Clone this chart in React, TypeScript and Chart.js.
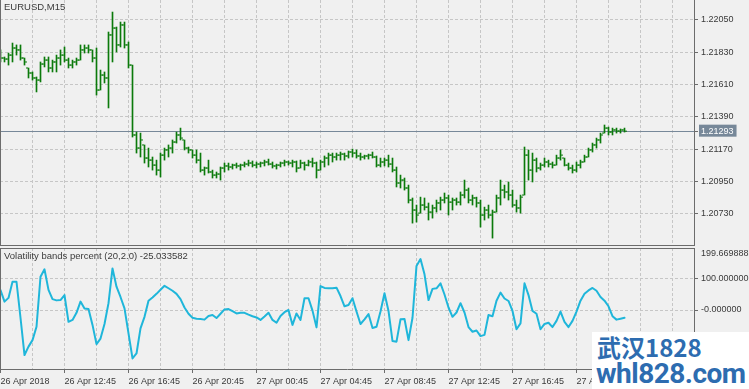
import React, { useEffect, useRef } from 'react';
import { Chart, registerables } from 'chart.js';

Chart.register(...registerables);

// ---------------- DATA ----------------
const SYMBOL_TITLE = 'EURUSD,M15';
const INDICATOR_NAME = 'Volatility bands percent (20,2.0)';

// time labels every 16 bars (4 hours of M15 bars)
const TIME_LABELS = [
  '26 Apr 2018', '26 Apr 12:45', '26 Apr 16:45', '26 Apr 20:45', '27 Apr 00:45',
  '27 Apr 04:45', '27 Apr 08:45', '27 Apr 12:45', '27 Apr 16:45', '27 Apr 20:45',
];

const PRICE_TICKS = [1.2073, 1.2095, 1.2117, 1.2139, 1.2161, 1.2183, 1.2205];
const LAST_PRICE = 1.21293;

const HIGH = [
  1.21846, 1.21798, 1.21825, 1.21893, 1.21880, 1.21880, 1.21791, 1.21723, 1.21696, 1.21662,
  1.21764, 1.21798, 1.21798, 1.21777, 1.21811, 1.21846, 1.21866, 1.21791, 1.21777, 1.21791,
  1.21880, 1.21880, 1.21880, 1.21846, 1.21859, 1.21709, 1.21696, 1.21968, 1.22104, 1.22002,
  1.22036, 1.22036, 1.21900, 1.21743, 1.21287, 1.21280, 1.21199, 1.21178, 1.21117, 1.21096,
  1.21144, 1.21178, 1.21199, 1.21233, 1.21287, 1.21314, 1.21233, 1.21185, 1.21165, 1.21165,
  1.21144, 1.21049, 1.21096, 1.21028, 1.21015, 1.21049, 1.21076, 1.21076, 1.21069, 1.21076,
  1.21069, 1.21083, 1.21096, 1.21090, 1.21083, 1.21083, 1.21096, 1.21103, 1.21083, 1.21069,
  1.21083, 1.21096, 1.21090, 1.21096, 1.21090, 1.21096, 1.21083, 1.21096, 1.21110, 1.21083,
  1.21096, 1.21124, 1.21144, 1.21144, 1.21144, 1.21151, 1.21144, 1.21158, 1.21171, 1.21165,
  1.21144, 1.21130, 1.21137, 1.21151, 1.21124, 1.21110, 1.21110, 1.21130, 1.21110, 1.21049,
  1.20994, 1.20974, 1.20926, 1.20838, 1.20790, 1.20844, 1.20838, 1.20804, 1.20790, 1.20824,
  1.20844, 1.20872, 1.20858, 1.20838, 1.20838, 1.20879, 1.20960, 1.20906, 1.20858, 1.20844,
  1.20824, 1.20776, 1.20790, 1.20756, 1.20858, 1.20960, 1.20926, 1.20947, 1.20892, 1.20824,
  1.20858, 1.21185, 1.21165, 1.21144, 1.21110, 1.21076, 1.21110, 1.21096, 1.21083, 1.21130,
  1.21165, 1.21110, 1.21076, 1.21062, 1.21083, 1.21096, 1.21130, 1.21178, 1.21212, 1.21246,
  1.21280, 1.21335, 1.21321, 1.21314, 1.21314, 1.21308, 1.21314,
];

const LOW = [
  1.21764, 1.21764, 1.21743, 1.21764, 1.21811, 1.21777, 1.21743, 1.21655, 1.21641, 1.21560,
  1.21628, 1.21730, 1.21696, 1.21696, 1.21696, 1.21743, 1.21764, 1.21723, 1.21723, 1.21743,
  1.21777, 1.21825, 1.21825, 1.21764, 1.21539, 1.21573, 1.21621, 1.21451, 1.21764, 1.21832,
  1.21866, 1.21859, 1.21723, 1.21253, 1.21144, 1.21117, 1.21076, 1.21049, 1.21028, 1.20994,
  1.20981, 1.21096, 1.21117, 1.21144, 1.21212, 1.21233, 1.21165, 1.21144, 1.21110, 1.21076,
  1.21015, 1.20994, 1.21008, 1.20974, 1.20974, 1.20960, 1.21015, 1.21028, 1.21035, 1.21042,
  1.21028, 1.21049, 1.21056, 1.21049, 1.21042, 1.21049, 1.21056, 1.21062, 1.21042, 1.21035,
  1.21049, 1.21056, 1.21062, 1.21049, 1.21015, 1.21042, 1.21028, 1.21056, 1.21049, 1.20974,
  1.21028, 1.21049, 1.21062, 1.21083, 1.21096, 1.21096, 1.21096, 1.21110, 1.21117, 1.21110,
  1.21096, 1.21103, 1.21103, 1.21110, 1.21049, 1.21049, 1.21056, 1.21049, 1.21015, 1.20913,
  1.20906, 1.20892, 1.20804, 1.20667, 1.20674, 1.20735, 1.20756, 1.20688, 1.20701, 1.20742,
  1.20756, 1.20804, 1.20722, 1.20756, 1.20790, 1.20790, 1.20838, 1.20804, 1.20790, 1.20776,
  1.20640, 1.20688, 1.20701, 1.20565, 1.20742, 1.20790, 1.20838, 1.20824, 1.20776, 1.20742,
  1.20735, 1.20858, 1.20960, 1.20947, 1.21015, 1.21028, 1.21049, 1.21049, 1.21042, 1.21062,
  1.21096, 1.21056, 1.21028, 1.21008, 1.21015, 1.21042, 1.21083, 1.21117, 1.21151, 1.21178,
  1.21212, 1.21280, 1.21267, 1.21267, 1.21280, 1.21280, 1.21287,
];

const OPEN = [
  1.21805, 1.21791, 1.21784, 1.21811, 1.21859, 1.21846, 1.21791, 1.21723, 1.21689, 1.21655,
  1.21641, 1.21750, 1.21777, 1.21723, 1.21764, 1.21791, 1.21811, 1.21777, 1.21743, 1.21764,
  1.21777, 1.21846, 1.21859, 1.21846, 1.21791, 1.21573, 1.21675, 1.21655, 1.21948, 1.21995,
  1.21880, 1.22016, 1.21880, 1.21743, 1.21267, 1.21178, 1.21199, 1.21110, 1.21096, 1.21062,
  1.21028, 1.21130, 1.21165, 1.21178, 1.21219, 1.21267, 1.21233, 1.21178, 1.21165, 1.21130,
  1.21096, 1.21028, 1.21042, 1.21015, 1.20994, 1.21001, 1.21042, 1.21056, 1.21049, 1.21062,
  1.21056, 1.21062, 1.21069, 1.21076, 1.21062, 1.21069, 1.21076, 1.21083, 1.21069, 1.21056,
  1.21062, 1.21076, 1.21083, 1.21076, 1.21083, 1.21042, 1.21076, 1.21062, 1.21083, 1.21076,
  1.21028, 1.21083, 1.21110, 1.21130, 1.21117, 1.21130, 1.21137, 1.21124, 1.21151, 1.21144,
  1.21124, 1.21117, 1.21124, 1.21130, 1.21117, 1.21062, 1.21083, 1.21096, 1.21069, 1.21028,
  1.20940, 1.20960, 1.20906, 1.20824, 1.20756, 1.20735, 1.20790, 1.20776, 1.20742, 1.20770,
  1.20804, 1.20824, 1.20838, 1.20810, 1.20824, 1.20810, 1.20858, 1.20892, 1.20824, 1.20838,
  1.20804, 1.20722, 1.20756, 1.20722, 1.20742, 1.20838, 1.20892, 1.20879, 1.20858, 1.20790,
  1.20770, 1.20858, 1.21130, 1.21028, 1.21096, 1.21042, 1.21062, 1.21083, 1.21069, 1.21062,
  1.21110, 1.21110, 1.21062, 1.21042, 1.21028, 1.21062, 1.21083, 1.21117, 1.21165, 1.21199,
  1.21233, 1.21280, 1.21314, 1.21287, 1.21301, 1.21294, 1.21301,
];

const CLOSE = [
  1.21791, 1.21784, 1.21811, 1.21859, 1.21846, 1.21791, 1.21764, 1.21689, 1.21655, 1.21641,
  1.21750, 1.21777, 1.21723, 1.21764, 1.21791, 1.21811, 1.21777, 1.21743, 1.21764, 1.21777,
  1.21846, 1.21859, 1.21846, 1.21791, 1.21573, 1.21675, 1.21655, 1.21948, 1.21995, 1.21880,
  1.22016, 1.21880, 1.21743, 1.21267, 1.21178, 1.21233, 1.21110, 1.21096, 1.21062, 1.21028,
  1.21130, 1.21165, 1.21178, 1.21219, 1.21267, 1.21246, 1.21178, 1.21165, 1.21130, 1.21096,
  1.21028, 1.21042, 1.21015, 1.20994, 1.21001, 1.21042, 1.21056, 1.21049, 1.21062, 1.21056,
  1.21062, 1.21069, 1.21076, 1.21062, 1.21069, 1.21076, 1.21083, 1.21069, 1.21056, 1.21062,
  1.21076, 1.21083, 1.21076, 1.21083, 1.21042, 1.21076, 1.21062, 1.21083, 1.21076, 1.21028,
  1.21083, 1.21110, 1.21130, 1.21117, 1.21130, 1.21137, 1.21124, 1.21151, 1.21144, 1.21124,
  1.21117, 1.21124, 1.21130, 1.21117, 1.21062, 1.21083, 1.21096, 1.21069, 1.21028, 1.20940,
  1.20960, 1.20906, 1.20824, 1.20756, 1.20722, 1.20790, 1.20776, 1.20742, 1.20770, 1.20804,
  1.20824, 1.20838, 1.20810, 1.20824, 1.20810, 1.20858, 1.20892, 1.20824, 1.20838, 1.20804,
  1.20722, 1.20756, 1.20722, 1.20742, 1.20838, 1.20892, 1.20879, 1.20858, 1.20790, 1.20770,
  1.20844, 1.21130, 1.21028, 1.21096, 1.21042, 1.21062, 1.21083, 1.21069, 1.21062, 1.21110,
  1.21130, 1.21062, 1.21042, 1.21028, 1.21062, 1.21083, 1.21117, 1.21165, 1.21199, 1.21233,
  1.21267, 1.21314, 1.21287, 1.21301, 1.21294, 1.21301, 1.21293,
];

// Volatility bands percent (20,2.0)
const VBP = [
  64, 27, 39, 91, 91, -25, -145, -118, -97, -54,
  107, 131, 65, 35, 31, 32, 48, -38, -32, -9,
  27, 5, 3, -48, -110, -92, -45, 22, 134, 75,
  42, 5, -75, -156, -140, -59, -22, 30, 40, 52,
  65, 78, 70, 62, 52, 35, 8, -12, -25, -28,
  -29, -31, -19, -16, -26, -12, 2, 3, -4, -11,
  -9, -9, -15, -20, -24, -32, -21, -9, -32, -41,
  -19, -7, 0, -48, -11, -32, 38, 38, -2, -56,
  77, 71, 70, 70, 72, 45, 12, 16, 38, -5,
  -45, -30, -13, -58, -54, -5, 54, -3, -100, -102,
  -30, -29, -97, -25, 142, 164, 115, 32, 68, 70,
  86, 50, 8, -22, -8, 22, -8, -55, -70, -66,
  -84, -80, -16, -20, 30, 56, 37, 29, -3, -62,
  -43, 86, 48, -3, -12, -62, -45, -41, -55, -35,
  -5, -38, -55, -35, -5, 30, 52, 63, 71, 62,
  42, 30, 12, -20, -31, -28, -25.033582,
];

const IND_MAX = 199.669888;
const IND_MIN = -190;
const IND_LEVELS = [100, 0];

// ---------------- STYLE ----------------
const BG = '#f0f0f0';
const GRID = '#c6c6c6';
const AXIS = '#6c6c6c';
const TEXT = '#3a3a3a';
const BAR = '#0b7a0b';
const LINE = '#1fb6da';
const PRICE_LINE = '#778899';
const FONT_FAMILY = '"Liberation Sans", Arial, sans-serif';
const FONT = { family: FONT_FAMILY, size: 9, lineHeight: 1 };

const BARS_PER_GRID = 8;
const BARS_PER_LABEL = 16;
const X_MIN = -0.125;
const X_MAX = 173.375;
const AXIS_W = 55;

const gridTicks = () =>
  Array.from({ length: Math.floor(X_MAX / BARS_PER_GRID) + 1 }, (_, k) => ({ value: k * BARS_PER_GRID }));

const framePlugin = {
  id: 'frame',
  afterDraw(chart: any, _args: any, opts: any) {
    const { ctx, chartArea: a } = chart;
    ctx.save();
    ctx.strokeStyle = AXIS;
    ctx.lineWidth = 1;
    ctx.beginPath();
    ctx.moveTo(a.left + 0.5, a.top);
    ctx.lineTo(a.left + 0.5, a.bottom);
    if (opts.top) {
      ctx.moveTo(a.left, a.top + 0.5);
      ctx.lineTo(a.right, a.top + 0.5);
    }
    ctx.stroke();
    ctx.fillStyle = TEXT;
    ctx.font = `9.5px ${FONT_FAMILY}`;
    ctx.textBaseline = 'alphabetic';
    ctx.textAlign = 'left';
    ctx.fillText(opts.text, a.left + 4, a.top + opts.baseline);
    ctx.restore();
  },
};

const baseOptions = {
  animation: false,
  responsive: false,
  maintainAspectRatio: false,
  devicePixelRatio: 1,
  events: [],
  layout: { padding: 0, autoPadding: false },
};

function xScale(withLabels: boolean) {
  return {
    type: 'linear',
    min: X_MIN,
    max: X_MAX,
    offset: false,
    afterBuildTicks: (s: any) => { s.ticks = gridTicks(); },
    afterFit: (s: any) => {
      s.height = withLabels ? 20 : 3;
      s.paddingLeft = 0;
      s.paddingRight = 0;
    },
    ticks: {
      display: withLabels,
      font: FONT,
      color: TEXT,
      align: 'start',
      maxRotation: 0,
      minRotation: 0,
      autoSkip: false,
      padding: 4,
      callback: (v: number) => {
        const k = Math.round(v);
        return k % BARS_PER_LABEL === 0 ? (TIME_LABELS[k / BARS_PER_LABEL] ?? '') : '';
      },
    },
    grid: {
      color: GRID,
      offset: false,
      drawTicks: withLabels,
      tickLength: 4,
      tickBorderDash: [],
      tickColor: (c: any) =>
        c.tick && Math.round(c.tick.value) % BARS_PER_LABEL === 0 ? AXIS : 'rgba(0,0,0,0)',
    },
    border: { display: true, color: AXIS, width: 1, dash: [3, 2] },
  };
}

export default function App() {
  const topRef = useRef<HTMLCanvasElement>(null);
  const botRef = useRef<HTMLCanvasElement>(null);

  useEffect(() => {
    const bars = HIGH.map((h, i) => ({ x: i, y: [LOW[i], h] }));
    const opens = OPEN.map((o, i) => ({ x: i - 0.375, y: o }));
    const closes = CLOSE.map((c, i) => ({ x: i + 0.375, y: c }));

    const isLast = (c: any) => !!c.tick && c.tick.value === LAST_PRICE;

    const top = new Chart(topRef.current as HTMLCanvasElement, {
      type: 'line',
      data: {
        datasets: [
          { type: 'bar', data: bars, backgroundColor: BAR, borderWidth: 0, barThickness: 1, grouped: false } as any,
          { type: 'line', data: opens, showLine: false, pointStyle: 'line', pointRadius: 1, pointBorderWidth: 1, pointBorderColor: BAR, pointBackgroundColor: BAR, pointHoverRadius: 1 } as any,
          { type: 'line', data: closes, showLine: false, pointStyle: 'line', pointRadius: 1, pointBorderWidth: 1, pointBorderColor: BAR, pointBackgroundColor: BAR, pointHoverRadius: 1 } as any,
        ],
      },
      options: {
        ...baseOptions,
        scales: {
          x: xScale(false),
          y: {
            type: 'linear',
            position: 'right',
            min: 1.20518,
            max: 1.22186,
            afterBuildTicks: (s: any) => {
              s.ticks = [...PRICE_TICKS, LAST_PRICE].sort((a, b) => a - b).map((v) => ({ value: v }));
            },
            afterFit: (s: any) => {
              s.width = AXIS_W;
              s.paddingTop = 0;
              s.paddingBottom = 0;
            },
            ticks: {
              font: FONT,
              color: (c: any) => (isLast(c) ? '#ffffff' : TEXT),
              padding: 3,
              autoSkip: false,
              callback: (v: number) => Number(v).toFixed(5),
              showLabelBackdrop: (c: any) => isLast(c),
              backdropColor: PRICE_LINE,
              backdropPadding: { top: 2, bottom: 1, left: 2, right: 3 },
            },
            grid: {
              color: (c: any) => (isLast(c) ? PRICE_LINE : GRID),
              tickLength: 4,
              tickColor: AXIS,
              tickBorderDash: [],
            },
            border: {
              display: true,
              color: AXIS,
              width: 1,
              dash: (c: any) => (isLast(c) ? [] : [3, 2]),
            },
          },
        },
        plugins: {
          legend: { display: false },
          tooltip: { enabled: false },
          frame: { top: false, text: SYMBOL_TITLE, baseline: 10 },
        },
      } as any,
      plugins: [framePlugin],
    });

    const maxLabelAt = IND_MAX - 18;
    const bot = new Chart(botRef.current as HTMLCanvasElement, {
      type: 'line',
      data: {
        datasets: [
          {
            data: VBP.map((v, i) => ({ x: i, y: v })),
            borderColor: LINE,
            borderWidth: 2,
            pointRadius: 0,
            pointHoverRadius: 0,
            tension: 0,
            borderJoinStyle: 'round',
            borderCapStyle: 'round',
          } as any,
        ],
      },
      options: {
        ...baseOptions,
        scales: {
          x: xScale(true),
          y: {
            type: 'linear',
            position: 'right',
            min: IND_MIN,
            max: IND_MAX,
            afterBuildTicks: (s: any) => {
              s.ticks = [maxLabelAt, ...IND_LEVELS].map((v) => ({ value: v }));
            },
            afterFit: (s: any) => {
              s.width = AXIS_W;
              s.paddingTop = 0;
              s.paddingBottom = 0;
            },
            ticks: {
              font: FONT,
              color: TEXT,
              padding: 3,
              autoSkip: false,
              callback: (v: number) => {
                if (v === maxLabelAt) return IND_MAX.toFixed(6);
                if (v === 0) return '-0.000000';
                return Number(v).toFixed(6);
              },
            },
            grid: {
              color: (c: any) => (c.tick && c.tick.value === maxLabelAt ? 'rgba(0,0,0,0)' : GRID),
              tickLength: 4,
              tickColor: (c: any) => (c.tick && c.tick.value === maxLabelAt ? 'rgba(0,0,0,0)' : AXIS),
              tickBorderDash: [],
            },
            border: { display: true, color: AXIS, width: 1, dash: [3, 2] },
          },
        },
        plugins: {
          legend: { display: false },
          tooltip: { enabled: false },
          frame: {
            top: true,
            text: `${INDICATOR_NAME} ${VBP[VBP.length - 1].toFixed(6)}`,
            baseline: 11,
          },
        },
      } as any,
      plugins: [framePlugin],
    });

    return () => {
      top.destroy();
      bot.destroy();
    };
  }, []);

  return (
    <div
      style={{
        position: 'absolute',
        left: 0,
        top: 0,
        width: 749,
        height: 389,
        background: BG,
        overflow: 'hidden',
      }}
    >
      <canvas ref={topRef} width={749} height={248} style={{ position: 'absolute', left: 0, top: 0 }} />
      <canvas ref={botRef} width={749} height={141} style={{ position: 'absolute', left: 0, top: 248 }} />
      <div
        style={{
          position: 'absolute',
          left: 592,
          top: 332,
          width: 157,
          height: 57,
          background: '#ffffff',
          color: '#2d6cb0',
          fontWeight: 700,
          overflow: 'hidden',
        }}
      >
        <div style={{ position: 'absolute', left: 5, top: 2, fontSize: 24, lineHeight: '26px', fontFamily: '"Noto Sans CJK SC", "Noto Sans", sans-serif' }}>
          武汉1828
        </div>
        <div style={{ position: 'absolute', left: 4, top: 27, fontSize: 28, lineHeight: '30px', fontFamily: 'Roboto, "Noto Sans", sans-serif', letterSpacing: -0.5 }}>
          whl828.com
        </div>
      </div>
    </div>
  );
}
